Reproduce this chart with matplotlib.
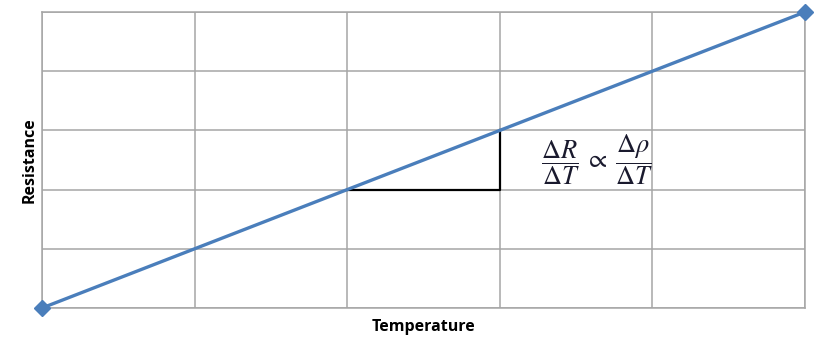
import numpy as np
import matplotlib.pyplot as plt

plt.rcParams["mathtext.fontset"] = "stix"

# data
temperature = [0, 5]
resistance = [0, 5]
tri_x = [2, 3, 3]
tri_y = [2, 2, 3]

fig = plt.figure(figsize=(8.17, 3.40), dpi=100)
ax = fig.add_axes([42 / 817, 1 - 308 / 340, (805 - 42) / 817, (308 - 12) / 340])

ax.plot(temperature, resistance, color="#4A7EBB", linewidth=2.4,
        marker="D", markersize=8, zorder=3, clip_on=False)
ax.plot(tri_x, tri_y, color="black", linewidth=1.6, zorder=2)

ax.text(3.64, 2.5, r"$\dfrac{\Delta R}{\Delta T}\;\propto\;\dfrac{\Delta \rho}{\Delta T}$",
        fontsize=19, color="#1a1a2e", ha="center", va="center")

ax.set_xlim(0, 5)
ax.set_ylim(0, 5)
ax.set_xticks(np.arange(0, 6))
ax.set_yticks(np.arange(0, 6))
ax.tick_params(length=0, labelbottom=False, labelleft=False)
ax.grid(True, color="#A6A6A6", linewidth=1.1)
for s in ax.spines.values():
    s.set_color("#A6A6A6")
    s.set_linewidth(1.1)

ax.set_xlabel("Temperature", fontsize=11.5, fontweight="bold", family="Open Sans", labelpad=8)
ax.set_ylabel("Resistance", fontsize=11.5, fontweight="bold", family="Open Sans", labelpad=3)

fig.savefig("out.png", dpi=100)
